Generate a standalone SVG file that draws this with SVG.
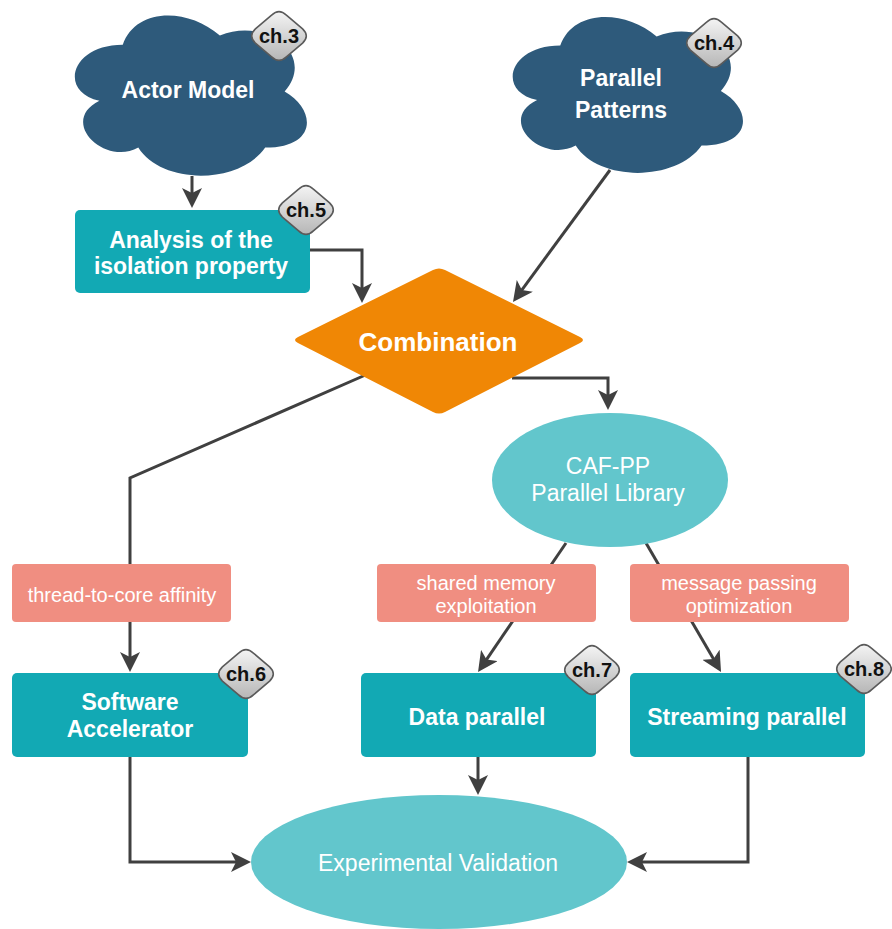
<svg xmlns="http://www.w3.org/2000/svg" width="892" height="929" viewBox="0 0 892 929">
  <style>
    .conn { fill: none; stroke: #404040; stroke-width: 3; marker-end: url(#arrow); }
    .cloud { fill: #2e5a7b; }
    .box { fill: #12a9b4; }
    .oval { fill: #62c6cc; }
    .tag { fill: #f08e81; }
    .decision { fill: #f08705; }
    .badge { fill: url(#badgeGrad); stroke: #5a5a5a; stroke-width: 1.6; }
    text { font-family: "Liberation Sans", Arial, Helvetica, sans-serif; text-anchor: middle; }
    .bold { font-weight: bold; font-size: 23px; fill: #ffffff; }
    .big { font-weight: bold; font-size: 26px; fill: #ffffff; }
    .plain { font-size: 23px; fill: #ffffff; }
    .small { font-size: 20px; fill: #ffffff; }
    .ch { font-weight: bold; font-size: 20px; fill: #111111; }
  </style>
  <defs>
    <marker id="arrow" viewBox="0 0 20 20" refX="8" refY="10" markerWidth="20" markerHeight="20" markerUnits="userSpaceOnUse" orient="auto">
      <path d="M0,0 L20,10 L0,20 L5,10 Z" fill="#404040"/>
    </marker>
    <linearGradient id="badgeGrad" x1="0" y1="0" x2="0" y2="1">
      <stop offset="0" stop-color="#f4f4f4"/>
      <stop offset="1" stop-color="#b6b6b6"/>
    </linearGradient>
    <!-- unit cloud outline, scaled per node -->
    <path id="cloudShape" d="M0.25,0.25 C0.05,0.25 0,0.5 0.16,0.55 C0,0.66 0.18,0.9 0.31,0.8 C0.4,1 0.7,1 0.8,0.8 C1,0.8 1,0.6 0.875,0.5 C1,0.3 0.8,0.1 0.625,0.2 C0.5,0.05 0.3,0.05 0.25,0.25 Z"/>
    <!-- rounded rhombus for chapter badges, centred on 0,0 -->
    <path id="badgeShape" d="M-7.4,-20.9 Q0,-28 7.4,-20.9 L23.6,-7.1 Q31,0 23.6,7.1 L7.4,20.9 Q0,28 -7.4,20.9 L-23.6,7.1 Q-31,0 -23.6,-7.1 Z"/>
  </defs>

  <g id="connectors">
    <path class="conn" d="M192,176 L192,196"/>
    <path class="conn" d="M310,250 L362,250 L362,291"/>
    <path class="conn" d="M610,170 L520.1,292.3"/>
    <path class="conn" d="M512,378 L608,378 L608,398"/>
    <path class="conn" d="M370,373 L130,478 L130,660"/>
    <path class="conn" d="M566,543 L484.8,662.1"/>
    <path class="conn" d="M646,543 L715,661.6"/>
    <path class="conn" d="M478,757 L478,783"/>
    <path class="conn" d="M130,757 L130,862 L239,862"/>
    <path class="conn" d="M748,757 L748,862 L639,862"/>
  </g>

  <g id="actor-model">
    <use href="#cloudShape" class="cloud" transform="translate(58,-2) scale(259,187)"/>
    <text class="bold" x="188" y="98">Actor Model</text>
    <use href="#badgeShape" class="badge" x="279" y="36"/>
    <text class="ch" x="279" y="43">ch.3</text>
  </g>

  <g id="parallel-patterns">
    <use href="#cloudShape" class="cloud" transform="translate(496,0) scale(257,182)"/>
    <text class="bold" x="621" y="86">Parallel</text>
    <text class="bold" x="621" y="118">Patterns</text>
    <use href="#badgeShape" class="badge" x="714" y="43"/>
    <text class="ch" x="714" y="50">ch.4</text>
  </g>

  <g id="isolation-analysis">
    <rect class="box" x="75" y="210" width="235" height="83" rx="5"/>
    <text class="bold" x="191" y="248">Analysis of the</text>
    <text class="bold" x="191" y="274">isolation property</text>
    <use href="#badgeShape" class="badge" x="306" y="210"/>
    <text class="ch" x="306" y="217">ch.5</text>
  </g>

  <g id="combination">
    <path class="decision" d="M298,337 L433,270 Q439,267 445,270 L580,337 Q586,340 580,343 L445,412 Q439,415 433,412 L298,343 Q292,340 298,337 Z"/>
    <text class="big" x="438" y="351">Combination</text>
  </g>

  <g id="caf-pp">
    <ellipse class="oval" cx="610" cy="480" rx="118" ry="67"/>
    <text class="plain" x="608" y="474">CAF-PP</text>
    <text class="plain" x="608" y="501">Parallel Library</text>
  </g>

  <g id="label-affinity">
    <rect class="tag" x="12" y="564" width="219" height="58" rx="4"/>
    <text class="small" x="122" y="602">thread-to-core affinity</text>
  </g>

  <g id="label-shared-memory">
    <rect class="tag" x="377" y="564" width="219" height="58" rx="4"/>
    <text class="small" x="486" y="590">shared memory</text>
    <text class="small" x="486" y="613">exploitation</text>
  </g>

  <g id="label-message-passing">
    <rect class="tag" x="630" y="564" width="219" height="58" rx="4"/>
    <text class="small" x="739" y="590">message passing</text>
    <text class="small" x="739" y="613">optimization</text>
  </g>

  <g id="software-accelerator">
    <rect class="box" x="12" y="673" width="236" height="84" rx="5"/>
    <text class="bold" x="130" y="710">Software</text>
    <text class="bold" x="130" y="737">Accelerator</text>
    <use href="#badgeShape" class="badge" x="246" y="674"/>
    <text class="ch" x="246" y="681">ch.6</text>
  </g>

  <g id="data-parallel">
    <rect class="box" x="361" y="673" width="235" height="84" rx="5"/>
    <text class="bold" x="477" y="725">Data parallel</text>
    <use href="#badgeShape" class="badge" x="592" y="670"/>
    <text class="ch" x="592" y="677">ch.7</text>
  </g>

  <g id="streaming-parallel">
    <rect class="box" x="630" y="673" width="235" height="84" rx="5"/>
    <text class="bold" x="747" y="725">Streaming parallel</text>
    <use href="#badgeShape" class="badge" x="864" y="669"/>
    <text class="ch" x="864" y="676">ch.8</text>
  </g>

  <g id="experimental-validation">
    <ellipse class="oval" cx="439" cy="862" rx="188" ry="67"/>
    <text class="plain" x="438" y="871">Experimental Validation</text>
  </g>
</svg>
